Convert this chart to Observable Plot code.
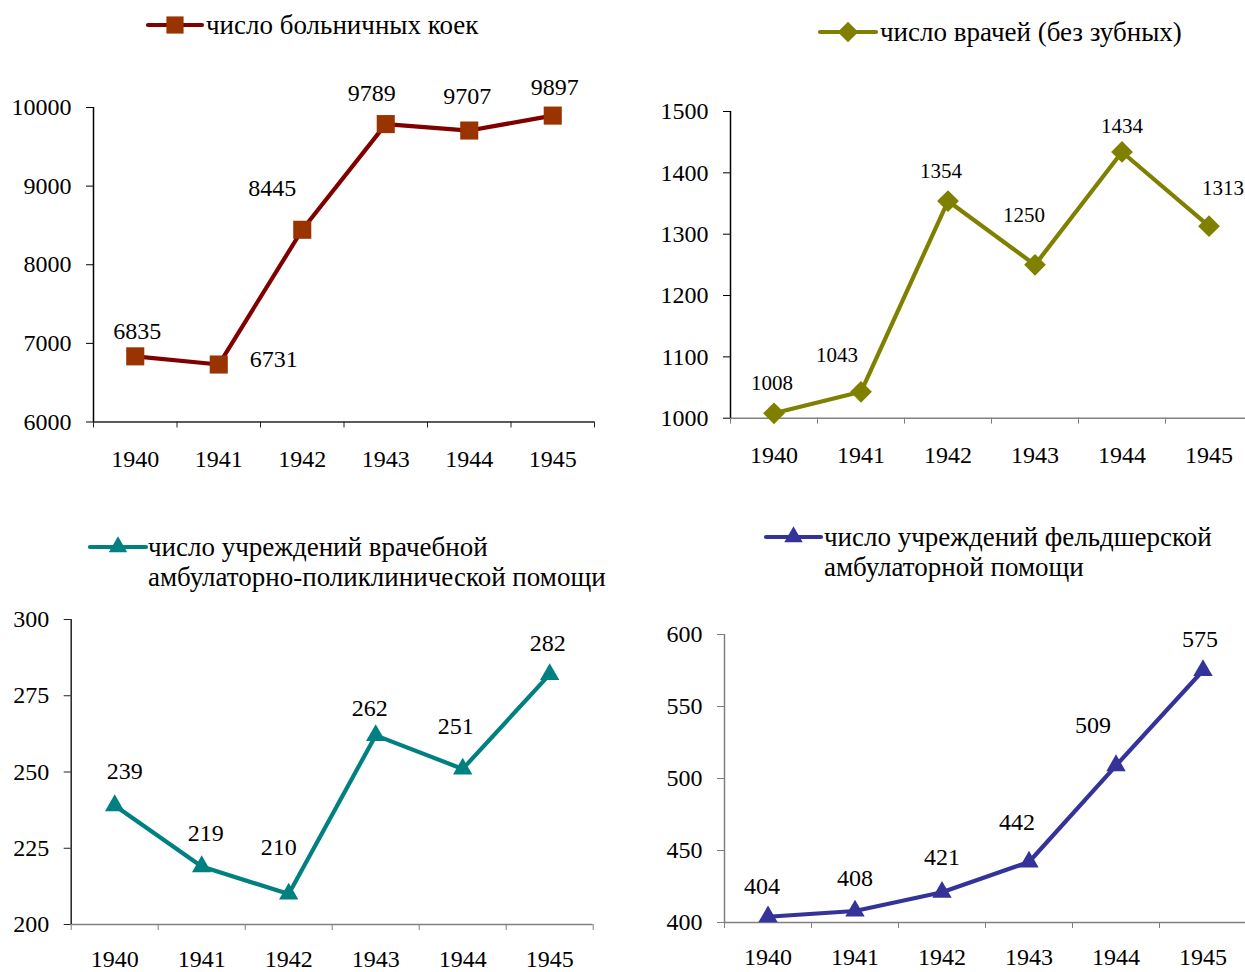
<!DOCTYPE html>
<html><head><meta charset="utf-8">
<script src="https://cdn.jsdelivr.net/npm/d3@7"></script>
<script src="https://cdn.jsdelivr.net/npm/@observablehq/plot@0.6"></script>
<style>
body{margin:0;background:#fff;overflow:hidden}
#root{position:relative;width:1245px;height:972px;overflow:hidden;font-family:"Liberation Serif","Times New Roman",serif;color:#000;background:#fff}
#root svg, #root svg text{font-family:"Liberation Serif","Times New Roman",serif !important}
.panel{position:absolute}
.legend{position:absolute;font-size:27px;line-height:30px;white-space:pre;color:#000}
.swatch{position:absolute;overflow:visible}
</style></head><body><div id="root"></div>
<script>
// ---- data ----
const years = [1940, 1941, 1942, 1943, 1944, 1945];
const beds = [6835, 6731, 8445, 9789, 9707, 9897];
const doctors = [1008, 1043, 1354, 1250, 1434, 1313];
const clinics = [239, 219, 210, 262, 251, 282];
const feldsher = [404, 408, 421, 442, 509, 575];
const bedsTicks = [6000, 7000, 8000, 9000, 10000];
const doctorsTicks = [1000, 1100, 1200, 1300, 1400, 1500];
const clinicsTicks = [200, 225, 250, 275, 300];
const feldsherTicks = [400, 450, 500, 550, 600];
const bedsTitle = "число больничных коек";
const doctorsTitle = "число врачей (без зубных)";
const clinicsTitle = "число учреждений врачебной\nамбулаторно-поликлинической помощи";
const feldsherTitle = "число учреждений фельдшерской\nамбулаторной помощи";

// ---- layout / style ----
const FONT = '"Liberation Serif","Times New Roman",serif';
const panels = [
  {values: beds, ticks: bedsTicks, title: bedsTitle,
   left: 0, top: 60, width: 620, height: 430, mL: 93, mR: 26, mT: 47, mB: 68.5, xPad: 28,
   line: "#800000", marker: "#993300", symbol: "square", r: 10.2,
   yAxis: "#000", xAxis: "#222", labelSize: 24,
   offs: [[2,-25],[55,-5],[-30,-41],[-14,-31],[-2,-34],[2,-28]],
   leg: {x0: 148, x1: 202, y: 25, tx: 206}},
  {values: doctors, ticks: doctorsTicks, title: doctorsTitle,
   left: 622, top: 60, width: 640, height: 430, mL: 108, mR: 10, mT: 51, mB: 72.3, xPad: 28,
   line: "#808000", marker: "#808000", symbol: "diamond2", r: 9.8,
   yAxis: "#000", xAxis: "#808080", labelSize: 21,
   offs: [[-2,-30],[-24,-37],[-7,-30],[-11,-50],[0,-26],[14,-38]],
   leg: {x0: 820, x1: 876, y: 32, tx: 880}},
  {values: clinics, ticks: clinicsTicks, title: clinicsTitle,
   left: 0, top: 590, width: 620, height: 382, mL: 70.7, mR: 27.3, mT: 29, mB: 48, xPad: 25,
   line: "#008080", marker: "#008080", symbol: "triangle", r: 7.2,
   yAxis: "#222", xAxis: "#808080", labelSize: 24,
   offs: [[10,-34],[4,-33],[-10,-47],[-6,-27],[-7,-43],[-2,-31]],
   leg: {x0: 90, x1: 146, y: 547, tx: 148}},
  {values: feldsher, ticks: feldsherTicks, title: feldsherTitle,
   left: 622, top: 590, width: 640, height: 382, mL: 102, mR: 16, mT: 44, mB: 50, xPad: 25,
   line: "#333399", marker: "#333399", symbol: "triangle", r: 7.2,
   yAxis: "#808080", xAxis: "#808080", labelSize: 24,
   offs: [[-6,-30],[0,-33],[0,-35],[-12,-40],[-23,-40],[-3,-31]],
   leg: {x0: 766, x1: 821, y: 537, tx: 824}}
];

const root = document.getElementById("root");
const boundaries = years.map(y => y - 0.5).concat([years[years.length - 1] + 0.5]);

for (const p of panels) {
  const rows = years.map((year, i) => ({year, value: p.values[i]}));
  const y0 = p.ticks[0], y1 = p.ticks[p.ticks.length - 1];
  const chart = Plot.plot({
    width: p.width, height: p.height,
    marginLeft: p.mL, marginRight: p.mR, marginTop: p.mT, marginBottom: p.mB,
    style: {fontFamily: FONT, fontSize: "24px", color: "#000", background: "transparent", overflow: "visible"},
    x: {domain: [boundaries[0], boundaries[boundaries.length - 1]], axis: null},
    y: {domain: [y0, y1], axis: null},
    marks: [
      Plot.axisY({ticks: p.ticks, tickSize: 7, tickPadding: 15, tickFormat: d => String(d), stroke: p.yAxis, fill: "#000", fontSize: 24, label: null}),
      Plot.axisX({ticks: boundaries, tickSize: 6, tickFormat: () => "", stroke: p.xAxis, label: null}),
      Plot.axisX({ticks: years, tickSize: 0, tickPadding: p.xPad, tickFormat: d => String(d), fill: "#000", fontSize: 24, label: null}),
      Plot.ruleY([y0], {stroke: p.xAxis, strokeWidth: 1.5}),
      Plot.ruleX([boundaries[0]], {stroke: p.yAxis, strokeWidth: 1.5}),
      Plot.line(rows, {x: "year", y: "value", stroke: p.line, strokeWidth: 4.2}),
      Plot.dot(rows, {x: "year", y: "value", symbol: p.symbol, r: p.r, fill: p.marker, stroke: "none"}),
      ...rows.map((d, i) => Plot.text([d], {x: "year", y: "value", text: d => String(d.value),
        dx: p.offs[i][0], dy: p.offs[i][1], fontSize: p.labelSize, fill: "#000"}))
    ]
  });
  chart.classList.add("panel");
  chart.style.left = p.left + "px";
  chart.style.top = p.top + "px";
  chart.style.maxWidth = "none";
  root.appendChild(chart);

  // legend swatch
  const L = p.leg;
  const sw = d3.create("svg").attr("class", "swatch")
    .attr("width", L.x1 - L.x0).attr("height", 30)
    .style("left", L.x0 + "px").style("top", (L.y - 15) + "px");
  sw.append("line").attr("x1", 0).attr("x2", L.x1 - L.x0).attr("y1", 15).attr("y2", 15)
    .attr("stroke", p.line).attr("stroke-width", 4.2).attr("stroke-linecap", "round");
  const symType = p.symbol === "square" ? d3.symbolSquare : p.symbol === "diamond2" ? d3.symbolDiamond2 : d3.symbolTriangle;
  const rr = p.r * 0.95;
  sw.append("path").attr("transform", `translate(${(L.x1 - L.x0) / 2},15)`)
    .attr("d", d3.symbol(symType, Math.PI * rr * rr)()).attr("fill", p.marker);
  root.appendChild(sw.node());

  const lg = document.createElement("div");
  lg.className = "legend";
  lg.style.left = L.tx + "px";
  lg.style.top = (L.y - 15) + "px";
  lg.textContent = p.title;
  root.appendChild(lg);
}
</script></body></html>
